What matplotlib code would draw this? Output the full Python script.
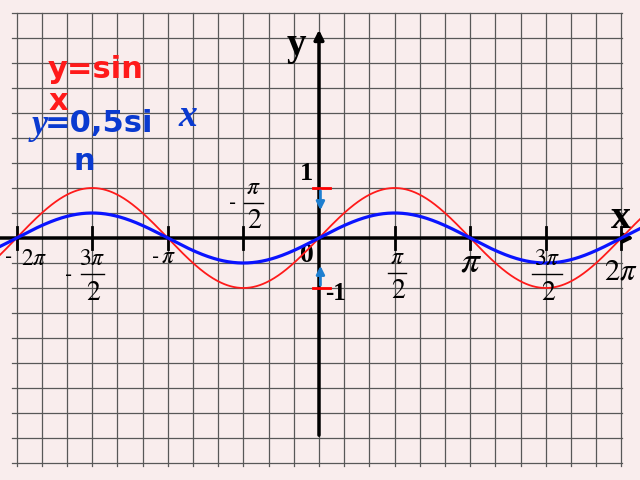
import numpy as np
import matplotlib.pyplot as plt

# графики y = sin x и y = 0,5 sin x
amp_red = 1.0
amp_blue = 0.5
tick_k = [-4, -3, -2, -1, 1, 2, 3, 4]   # кратные pi/2

plt.rcParams['mathtext.fontset'] = 'stix'
bg = '#f9eded'

fig = plt.figure(figsize=(6.4, 4.8), dpi=100, facecolor=bg)
ax = fig.add_axes([0, 0, 1, 1])
ax.set_facecolor(bg)
ax.set_xlim(-6.628, 6.670)
ax.set_ylim(-4.84, 4.76)
ax.axis('off')

# клетчатая бумага
for gx in np.arange(-12, 13) * np.pi / 6:
    ax.plot([gx, gx], [-4.56, 4.5], color='#585858', lw=0.9, zorder=1)
for gy in np.arange(-9, 10) * 0.5:
    ax.plot([-2 * np.pi - 0.1, 2 * np.pi + 0.02], [gy, gy], color='#585858', lw=0.9, zorder=1)

# оси
ax.annotate('', xy=(6.6, 0), xytext=(-6.7, 0),
            arrowprops=dict(arrowstyle='-|>', lw=2.5, color='black', mutation_scale=14), zorder=3)
ax.annotate('', xy=(0, 4.22), xytext=(0, -4.0),
            arrowprops=dict(arrowstyle='-|>', lw=2.5, color='black', mutation_scale=14), zorder=3)

for k in tick_k:
    ax.plot([k * np.pi / 2] * 2, [-0.22, 0.22], color='black', lw=2, zorder=3)

# отметки 1 и -1
ax.plot([-0.12, 0.23], [1, 1], color='red', lw=2, zorder=4)
ax.plot([-0.12, 0.23], [-1, -1], color='red', lw=2, zorder=4)
ax.annotate('', xy=(0.03, 0.5), xytext=(0.03, 1.0),
            arrowprops=dict(arrowstyle='-|>', lw=2, color='#1f7fd0', mutation_scale=12), zorder=4)
ax.annotate('', xy=(0.03, -0.5), xytext=(0.03, -1.0),
            arrowprops=dict(arrowstyle='-|>', lw=2, color='#1f7fd0', mutation_scale=12), zorder=4)

# кривые
x = np.linspace(-6.7, 6.7, 800)
ax.plot(x, amp_red * np.sin(x), color='#ff1a1a', lw=1.3, zorder=5)
ax.plot(x, amp_blue * np.sin(x), color='#0a14ff', lw=2.3, zorder=5)

# подписи делений
serif = 'Liberation Serif'
p2 = np.pi / 2


def frac(xc, yc, num, fs=17, w=0.24, dy=0.32):
    ax.text(xc, yc + dy, num, fontsize=fs, ha='center', va='center', zorder=6)
    ax.plot([xc - w, xc + w], [yc, yc], color='black', lw=1, zorder=6)
    ax.text(xc + 0.03, yc - dy - 0.03, '$2$', fontsize=fs + 3, ha='center', va='center', zorder=6)


ax.text(-4 * p2 - 0.17, -0.4, '-', fontsize=14, ha='center', va='center')
ax.text(-4 * p2 + 0.36, -0.4, r'$2\pi$', fontsize=17, ha='center', va='center')
ax.text(-3 * p2 - 0.5, -0.74, '-', fontsize=14, ha='center', va='center')
frac(-3 * p2, -0.72, r'$3\pi$')
ax.text(-2 * p2 - 0.26, -0.38, '-', fontsize=14, ha='center', va='center')
ax.text(-2 * p2 + 0.02, -0.36, r'$\pi$', fontsize=17, ha='center', va='center')
ax.text(-p2 - 0.23, 0.70, '-', fontsize=14, ha='center', va='center')
frac(-p2 + 0.21, 0.70, r'$\pi$', w=0.19)
frac(p2 + 0.05, -0.70, r'$\pi$', w=0.18)
ax.text(2 * p2 + 0.02, -0.48, r'$\pi$', fontsize=27, ha='center', va='center')
frac(3 * p2 + 0.02, -0.72, r'$3\pi$', w=0.31)
ax.text(4 * p2 - 0.02, -0.66, r'$2\pi$', fontsize=22, ha='center', va='center')

# подписи осей
ax.text(-0.46, 3.86, 'y', fontsize=28, family=serif, weight='bold', ha='center', va='center')
ax.text(6.27, 0.40, 'x', fontsize=29, family=serif, weight='bold', ha='center', va='center')
ax.text(-0.25, 1.28, '1', fontsize=19, family=serif, weight='bold', ha='center', va='center')
ax.text(-0.26, -0.36, '0', fontsize=20, family=serif, weight='bold', ha='center', va='center')
ax.text(0.34, -1.12, '-1', fontsize=18, family=serif, weight='bold', ha='center', va='center')

# формулы
ax.text(-5.63, 3.38, 'y=sin', fontsize=22, color='#ff1a1a', weight='bold', ha='left', va='center')
ax.text(-5.63, 2.74, 'x', fontsize=22, color='#ff1a1a', weight='bold', ha='left', va='center')
ax.text(-5.69, 2.28, '=0,5si', fontsize=22, color='#0a3ad0', weight='bold', ha='left', va='center')
ax.text(-5.11, 1.54, 'n', fontsize=22, color='#0a3ad0', weight='bold', ha='left', va='center')
ax.text(-5.98, 2.24, 'y', fontsize=26, color='#0a3ad0', family=serif, style='italic',
        weight='bold', ha='left', va='center')
ax.text(-2.93, 2.42, 'x', fontsize=27, color='#0a3ad0', family=serif, style='italic',
        weight='bold', ha='left', va='center')

fig.savefig('out.png', dpi=100, facecolor=bg)
